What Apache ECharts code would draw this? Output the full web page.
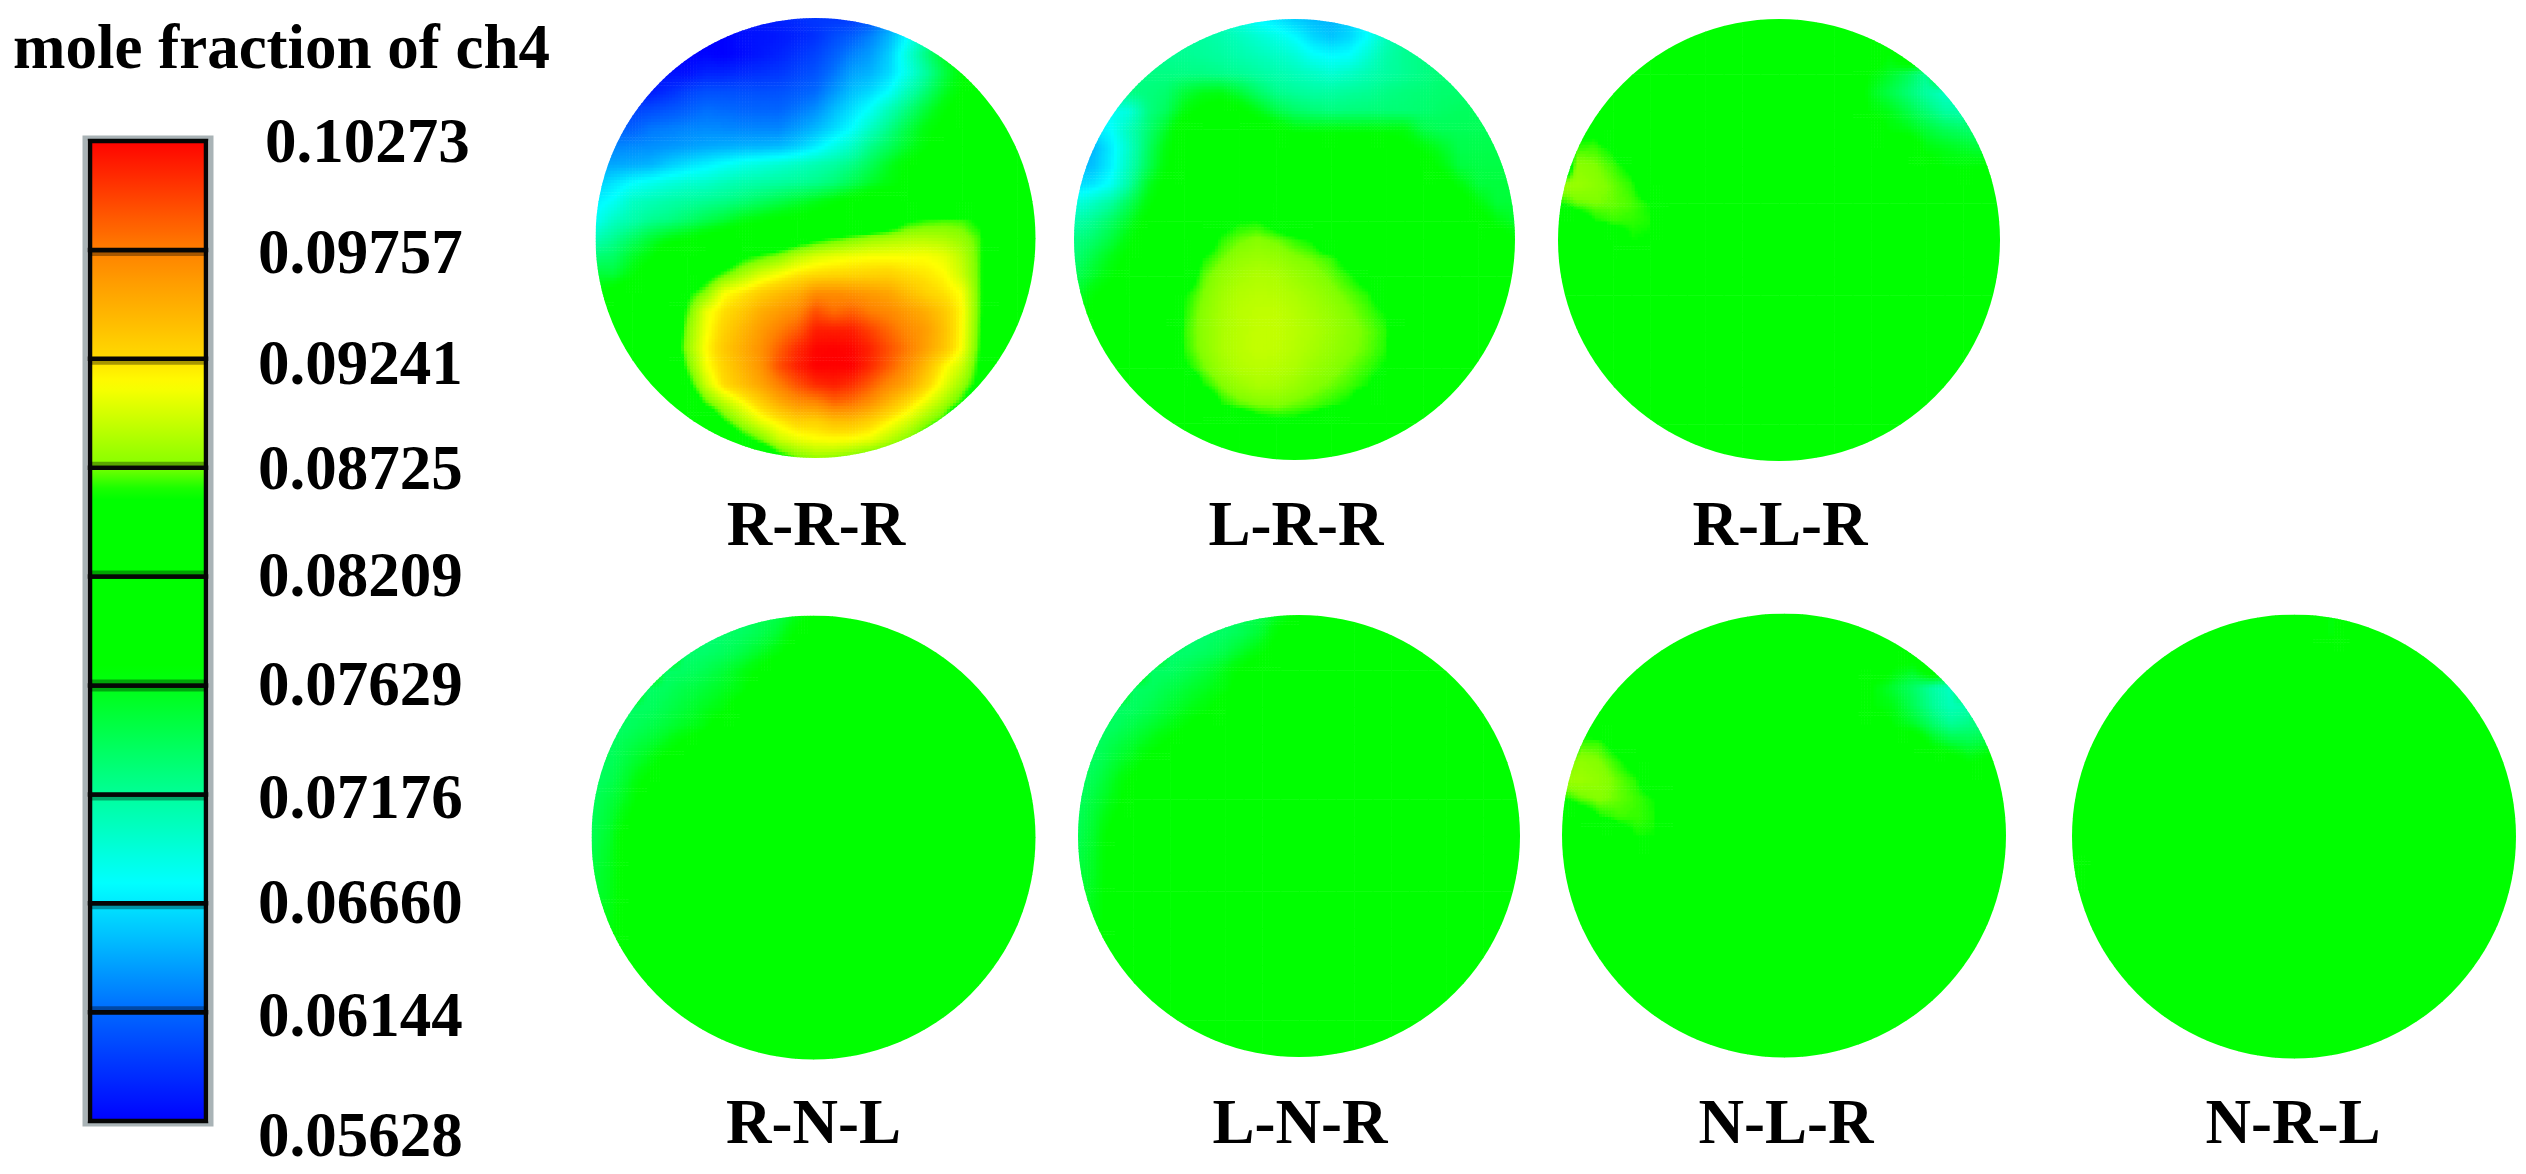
<!DOCTYPE html>
<html>
<head>
<meta charset="utf-8">
<style>html,body{margin:0;background:#fff}#main{width:2526px;height:1174px}</style>
<script src="https://cdn.jsdelivr.net/npm/echarts@6/dist/echarts.min.js"></script>
</head>
<body>
<div id="main"></div>
<script>
// tick labels of the colour bar, top to bottom
const tickLabels = ['0.10273', '0.09757', '0.09241', '0.08725', '0.08209', '0.07629', '0.07176', '0.06660', '0.06144', '0.05628'];
// same levels in 1e-3 units, bottom to top
const levels = [56.28, 61.44, 66.60, 71.76, 76.29, 82.09, 87.25, 92.41, 97.57, 102.73];
const caseNames = ['R-R-R', 'L-R-R', 'R-L-R', 'R-N-L', 'L-N-R', 'N-L-R', 'N-R-L'];

// colour bar colours, position counted in bands from the bottom
const barPos = [0, 1, 2, 2.2, 3, 4, 4.2, 5.75, 6, 6.76, 7, 8, 9];
const barColors = ['#0000ff', '#0068ff', '#00e8ff', '#00ffff', '#00ff99', '#00ff11', '#00ff00', '#00ff00', '#80ff00', '#ffff00', '#ffdc00', '#ff8000', '#ff0000'];
// where the tick labels sit, in bands from the bottom
const labelPos = [8.96, 7.94, 6.92, 5.95, 4.97, 3.97, 2.93, 1.97, 0.93, -0.17];
// soft dark edge next to some bar lines: [band line, side]
const lineHalos = [[8, -1], [7, -1], [6, 1], [5, 1], [4, 1], [4, -1], [3, -1], [2, -1], [1, 1]];

// mole fraction x 1000, 25 x 25 nodes, rows from the top.
// a short row means plain green (backgroundValue) for the rest of the row
const backgroundValue = 80;
const rrrRows = [
  [56,56,56,56,56,56,56,56.5,57,57.5,58,58.5,59,59,59,60.5,63,66,69,72,75,77,78,79,80],
  [56,56,56,56,56,56,56,56.3,57,57.2,57.5,58,58.7,60,61,62.5,64.5,67.5,71,74.5,77,79],
  [56.3,56.3,56.3,56.3,56.3,56.3,56.5,56.3,56.8,57.4,58,58.8,59.6,61,62.5,63.6,65.5,69,72.5,75.5,78],
  [57,57,57,57,57,57,58,58,58.4,58.7,59,59.7,60.4,62,63.8,64.5,66,68.5,71.5,74.5,77,79],
  [57.5,57.5,57.5,57.5,58.5,59.5,60.2,60.2,60.2,60.2,60.3,60.8,61.5,63.3,65,66,67.6,70.5,73,75.5,77.5,79],
  [59.5,59.5,59.5,60,60.5,61,61.7,61.5,61.3,61.3,61.3,62,63,64.8,66.3,68,70.5,72.8,75,77,79],
  [61,61,61,62,62.3,62.6,62.8,62.7,62.6,62.6,62.6,63.5,64.6,66,67.6,70,72.3,74.5,76.5,78],
  [62.5,62.6,62.8,63,63.3,63.6,64,64.2,64.4,64.5,64.7,65.5,66.8,68.5,70,72.3,73.8,75.5,77,79],
  [64,64,64.2,64.5,65.5,66.3,67,67.8,68.5,69,69.5,70.1,70.8,71.5,72.5,74,75.8,77.5,79],
  [65.5,66.5,67.6,68.3,69,69.5,69.8,70.5,71,71.3,71.6,71.9,72.3,73,74.2,75.5,76.6,78,79.5],
  [67,68,70,70.6,71.2,71.6,72,72.4,73,73.7,74.4,75.2,76,77,78,79,79.5],
  [68,70,71,72,72.5,73.3,74.2,75,76.2,76.8,77.5,78,78.5,79,79.5,81,83,85.5,86.2,86.5,86.5,85.5,81],
  [70.5,72,73.5,75,76.2,77,78,79,80,81,82.5,84,85.3,86.2,87,87.8,88.3,88.7,88.8,88.5,87.8,86.5,81],
  [73,73.5,75.5,76.8,80,81,82,83,85.5,86.5,87.5,89,90,90.5,90.8,91,91,91,91,90.5,89,86.5,81],
  [75,75,76.8,79.5,81,82,84.8,86.8,88.5,90,91,92,92.5,92.7,92.8,92.9,93,92.4,92,91.3,89.5,86.5,81],
  [77,78.5,80,80.8,81.5,85.5,87.5,91,92,93.2,94.2,95,96.8,96.8,96.5,96,95.5,94.2,93,92.2,91,86.5,81],
  [78,79,80,81,83,86.5,90.5,92.3,93.5,95,96,97,99.5,98.3,98.8,97.6,97,96,95,93.5,91.3,86.5,81],
  [79,79.5,80,80.5,81.5,87.5,90.8,93,94.5,96,97.5,99,101.5,101.5,101.5,100,98.5,97,96,94,91.2,86.3,81],
  [79,79.5,80,80.5,82.5,87.8,91.2,93.5,95,96.6,98.8,101,102.5,102.7,102.5,101.3,99.5,97.8,95.8,93.8,91,86,81],
  [79,79.5,80,80.5,81.5,86.8,90.8,93,94.7,96.4,99.5,101.5,102.7,102.7,102.7,101,99,96.8,94.3,91.5,89.5,85.5,81],
  [79,79.5,80,80.5,81,85,89.5,92.5,94,95.5,97.5,99.5,101,101.5,100.8,99,97,95.5,93,90.5,88,85,81],
  [79,79.5,80,80.2,80.5,82,86.5,89,91,93,95,96.5,97,98.5,98,96.5,94.5,92.5,90.5,88.5,86,81],
  [79,79.5,80,80,80,80.5,82,86,88.5,90.5,91.8,93,93,94,94,93,91.5,90,88,86,81],
  [79,79.5,80,80,80,80,80.5,81.5,85,87,89.5,90.5,91,91.2,91,90.5,89,87.5,85,81],
  [79,79.5,80,80,80,80,80,80,80,81,85,87,88,87.8,87,86,85,83,81]
];
const lrrRows = [
  [72,72,72,72,72,71.5,71,71,70.5,69,67.5,66.5,65.5,64.8,64.5,65.5,67.5,70,71.5,72.5,73,73,73,73,73],
  [72,72,72,72,72,72,71.8,71.5,71,70.3,69.5,68.7,67.6,66,65.2,66,67.8,70.5,72,72.5,72.8,73,73,73,73],
  [72,72,72,72,72,72,72,71.8,71.5,71,70.5,70,69.3,68,67.5,67.8,69.5,71.2,72,72.5,72.8,73,73,73,73],
  [72.5,72.5,72.5,72.5,72.5,72.5,72.5,72.5,72.3,72,71.5,71,70.5,70,69.5,70,70.8,71.5,72,72.5,73,73,73,73,73],
  [72.5,72.5,72.5,72.5,72.7,73.2,75,76,76.2,75,73.5,72.3,71.8,71.5,71.5,71.8,72,72.5,72.8,73,73.2,73.3,73.3,73.3,73.3],
  [68,68,68,69,72.5,73.8,76.5,78,79,78,76.2,74.5,73.5,73,72.7,72.8,72.9,73,73,73.2,73.5,73.7,73.8,73.8,73.8],
  [66.5,66.5,67.6,70.5,73,75.5,79,80,80,80,79,78,76.6,76.4,76.4,76.4,76.4,76.4,76.4,74.5,74,74,74,74,74],
  [64.5,64.6,66.8,70,73.5,76.5,79,80,80,80,80,80,80,80,80,80,80,80,78,76.8,75.5,74.3,74.3,74.3,74.3],
  [64.8,65,67,70.5,74,77,79.5,80,80,80,80,80,80,80,80,80,80,80,80,79,76.7,74.8,74.6,74.6,74.6],
  [66,66.5,68,71.5,75.5,78,80,80,80,80,80,80,80,80,80,80,80,80,80,80,79,76.5,74.9,74.8,74.8],
  [68.8,70,71.5,74,76.6,79,80,80,80,80,80,80,80,80,80,80,80,80,80,80,80,79,76.6,75,75],
  [71,72,73.5,75.5,78,80,81,82.5,85,85.9,86,85,83,81.5,80,80,80,80,80,80,80,80,79,76.5,75.5],
  [72.5,73.3,74.8,76.8,79,80,81,84,86.3,87,87.4,87,86.4,85.8,83,81,80,80,80,80,80,80,80,79,77.5],
  [73,74.6,76.2,78,79.5,80,82,86,87,87.8,88.1,87.9,87.4,87,86.5,85,82],
  [74,75.5,77,79,80,80,84,86.8,87.8,88.4,88.7,88.6,88.1,87.6,87,86.3,85,82],
  [75,77,78.5,80,80,80,85.9,87.2,88.2,88.8,89,88.9,88.6,88.1,87.5,86.9,86.3,84.5,81],
  [76,78,79,80,80,81,86.2,87.5,88.4,89,89.2,89.2,88.9,88.4,87.9,87.3,86.7,85.9,82],
  [77,79,80,80,80,82,86.4,87.6,88.5,89,89.3,89.3,89,88.6,88.1,87.5,87,86.3,83],
  [78,79,80,80,80,82,86.3,87.5,88.5,89,89.3,89.2,88.9,88.4,87.9,87.4,86.9,86.2,82],
  [79,80,80,80,80,81,85.7,87,88.1,88.8,89,88.9,88.6,88,87.5,87,86.5,85.8,82],
  [80,80,80,80,80,80,82,85.9,87.2,88,88.5,88.4,88,87.4,87,86.6,86,84.5,81],
  [80,80,80,80,80,80,80,82,86,86.8,87.2,87.3,87,86.7,86.3,85.8,83,81],
  [80,80,80,80,80,80,80,80,81,83,85,85.5,85.5,85,83,81]
];
// the near uniform plots: [row, first column, values...]
const rlrPatches = [
  [2, 18, 77],
  [3, 17, 77, 75.5, 74, 72],
  [4, 17, 76, 74.5, 73, 71.5, 70, 70],
  [5, 17, 77, 76, 74.5, 73, 71.5, 71],
  [6, 18, 77, 76.2, 75, 74, 73.5, 73],
  [7, 20, 76.5, 76, 75.5, 75],
  [8, 20, 79, 77, 77, 77],
  [6, 1, 85, 85.5, 82],
  [7, 1, 86.5, 86.6, 85.7, 82],
  [8, 1, 87.6, 87.3, 86.6, 85.5, 82],
  [9, 0, 88, 88, 87.6, 87, 86.4, 84],
  [10, 0, 86, 87, 87.2, 87, 86.7, 86, 82],
  [11, 0, 81, 84, 86, 86.5, 86.4, 86.2, 82],
  [12, 3, 84, 86, 85.8, 81]
];
const rnlPatches = [
  [0, 8, 73, 74, 74.3, 76, 78],
  [1, 6, 73, 73.3, 73.6, 74.2, 75.2, 77.5],
  [2, 5, 73.3, 73.3, 73.7, 74.4, 75.5, 76.7, 79],
  [3, 4, 73.5, 73.6, 74.1, 74.9, 76, 77.5],
  [4, 3, 73.5, 73.8, 74.5, 75, 75.7, 76.5, 79],
  [5, 2, 73.5, 73.7, 74.3, 75, 75.8, 76.5, 79],
  [6, 1, 73.4, 73.7, 74.3, 75, 75.8, 76.5, 79],
  [7, 1, 73.7, 74.4, 75.2, 76.3, 78],
  [8, 0, 73.5, 73.9, 75, 76.2, 78.5],
  [9, 0, 73.5, 74.2, 75.7, 78],
  [10, 0, 73.8, 74.8, 76.3, 79],
  [11, 0, 74, 75.2, 77.5],
  [12, 0, 74.2, 75.5, 79],
  [13, 0, 74.5, 75.8, 79],
  [14, 0, 74.8, 75.9, 79],
  [15, 0, 75, 76, 79],
  [16, 0, 75.2, 76.2, 79],
  [17, 0, 75.5, 76.4],
  [18, 0, 76.5, 78]
];
const lnrPatches = [
  [0, 8, 73, 74, 74.5, 76, 78],
  [1, 6, 73, 73.3, 73.6, 74.2, 75.4, 77.8],
  [2, 5, 73.3, 73.3, 73.7, 74.5, 75.7, 77, 79],
  [3, 4, 73.5, 73.6, 74.2, 75, 76.2, 77.8],
  [4, 3, 73.5, 73.8, 74.5, 75.2, 75.9, 76.8, 79],
  [5, 2, 73.5, 73.7, 74.3, 75.2, 76, 76.8, 79],
  [6, 1, 73.4, 73.7, 74.5, 75.3, 76.2, 77.5, 79],
  [7, 1, 73.7, 74.5, 75.4, 76.5, 78],
  [8, 0, 73.5, 73.9, 75.2, 76.4, 78.5],
  [9, 0, 73.5, 74.4, 76, 78],
  [10, 0, 73.8, 75, 76.5, 79],
  [11, 0, 74, 75.4, 77.5],
  [12, 0, 74.2, 75.7, 79],
  [13, 0, 74.5, 75.9, 79],
  [14, 0, 74.8, 76, 79],
  [15, 0, 75, 76.2, 79],
  [16, 0, 75.2, 76.4, 79],
  [17, 0, 75.5, 76.5],
  [18, 0, 76.5, 78]
];
const nlrPatches = [
  [3, 18, 77, 76],
  [4, 17, 76.5, 75, 73.5, 71.5, 70],
  [5, 17, 77, 76, 74, 72, 70.5, 71],
  [6, 18, 76.8, 75.5, 73.5, 72, 72.5, 73],
  [7, 20, 76.5, 75, 74.5, 75],
  [8, 21, 79, 77, 78],
  [6, 1, 85, 84, 81],
  [7, 1, 86.6, 86.5, 85, 81],
  [8, 0, 87, 87.7, 87.3, 86.4, 85, 81],
  [9, 0, 88, 88.1, 87.7, 87, 86.3, 84],
  [10, 0, 86, 87, 87.4, 87, 86.6, 86, 81],
  [11, 0, 81, 84, 86, 86.6, 86.5, 86.2, 82],
  [12, 3, 84.5, 86.1, 86, 81]
];
const nrlPatches = [
  [0, 14, 76.4],
  [1, 14, 76.6],
  [13, 0, 84],
  [14, 0, 86.4, 81]
];

const nodeCount = 25;
// disk centre x, centre y and radius in pixels, same order as caseNames
const diskBoxes = [[815.5, 238, 220], [1294.5, 239.5, 220.5], [1779, 240, 221], [813.5, 837.5, 222], [1299, 836, 221], [1784, 835.5, 222], [2294, 836.5, 222]];
const captionPos = [[816, 497], [1296, 497], [1780, 497], [813.5, 1095], [1300, 1095], [1786, 1095], [2293, 1095]];

const fontFamily = '"Liberation Serif", "Times New Roman", serif';

function buildField(rows, patches) {
    let field = [];
    for (let r = 0; r < nodeCount; r++) {
        let row = [];
        for (let c = 0; c < nodeCount; c++) {
            row.push(rows[r] && rows[r][c] !== undefined ? rows[r][c] : backgroundValue);
        }
        field.push(row);
    }
    patches.forEach(function (p) {
        for (let i = 2; i < p.length; i++) {
            field[p[0]][p[1] + i - 2] = p[i];
        }
    });
    return field;
}

const fields = [
    buildField(rrrRows, []),
    buildField(lrrRows, []),
    buildField([], rlrPatches),
    buildField([], rnlPatches),
    buildField([], lnrPatches),
    buildField([], nlrPatches),
    buildField([], nrlPatches)
];

function colorAtBand(t) {
    let i = 0;
    while (i < barPos.length - 2 && t > barPos[i + 1]) i++;
    let f = (t - barPos[i]) / (barPos[i + 1] - barPos[i]);
    f = Math.max(0, Math.min(1, f));
    return echarts.color.lerp(f, [barColors[i], barColors[i + 1]]);
}

let colorCache = {};
function colorOf(v) {
    let key = Math.round(v * 20);
    if (colorCache[key]) return colorCache[key];
    let i = 0;
    while (i < levels.length - 2 && v > levels[i + 1]) i++;
    let t = i + (v - levels[i]) / (levels[i + 1] - levels[i]);
    colorCache[key] = colorAtBand(t);
    return colorCache[key];
}

// one custom cell, shaded between its four corner values
function diskRenderer(field) {
    const last = nodeCount - 1;
    return function (params, api) {
        let c = api.value(0), r = api.value(1);
        let p0 = api.coord([c, r]), p1 = api.coord([c + 1, r + 1]);
        let mid = api.coord([last / 2, last / 2]);
        let rad = api.size([last, 0])[0] / 2;
        let nx = Math.max(p0[0], Math.min(mid[0], p1[0])) - mid[0];
        let ny = Math.max(p0[1], Math.min(mid[1], p1[1])) - mid[1];
        if (nx * nx + ny * ny > rad * rad) return null;

        let a = field[r][c], b = field[r][c + 1], d = field[r + 1][c], e = field[r + 1][c + 1];
        let lo = Math.min(a, b, d, e), hi = Math.max(a, b, d, e);
        let w = p1[0] - p0[0], h = p1[1] - p0[1];
        let children = [];
        if (colorOf(lo) === colorOf(hi)) {
            children.push({ type: 'rect', shape: { x: p0[0], y: p0[1], width: w + 0.6, height: h + 0.6 }, style: { fill: colorOf(lo) } });
        } else {
            let n = 6;
            for (let j = 0; j < n; j++) {
                for (let i = 0; i < n; i++) {
                    let u = (i + 0.5) / n, v = (j + 0.5) / n;
                    let val = (a * (1 - u) + b * u) * (1 - v) + (d * (1 - u) + e * u) * v;
                    children.push({
                        type: 'rect',
                        shape: { x: p0[0] + w * i / n, y: p0[1] + h * j / n, width: w / n + 0.6, height: h / n + 0.6 },
                        style: { fill: colorOf(val) }
                    });
                }
            }
        }
        return {
            type: 'group',
            children: children,
            clipPath: { type: 'circle', shape: { cx: mid[0], cy: mid[1], r: rad } }
        };
    };
}

let grids = [], xAxes = [], yAxes = [], series = [], titles = [];

// colour bar
const barTop = 141, bandHeight = 108.9;
grids.push({ left: 90, width: 116, top: barTop, height: bandHeight * 9.2 });
xAxes.push({ type: 'value', gridIndex: 0, min: 0, max: 1, show: false });
yAxes.push({
    type: 'value', gridIndex: 0, min: -0.2, max: 9, position: 'right',
    splitLine: { show: false }, axisLine: { show: false }, axisTick: { show: false },
    axisLabel: {
        customValues: labelPos,
        margin: 52,
        align: 'left',
        fontFamily: fontFamily,
        fontWeight: 'bold',
        fontSize: 63,
        color: '#000',
        rich: {
            // the top label stands a little further right than the others
            shifted: { padding: [0, 0, 0, 7], fontFamily: fontFamily, fontWeight: 'bold', fontSize: 63, color: '#000' }
        },
        formatter: function (v) {
            let best = 0;
            labelPos.forEach(function (p, i) {
                if (Math.abs(p - v) < Math.abs(labelPos[best] - v)) best = i;
            });
            return best === 0 ? '{shifted|' + tickLabels[best] + '}' : tickLabels[best];
        }
    }
});
series.push({
    type: 'custom',
    xAxisIndex: 0, yAxisIndex: 0,
    silent: true, animation: false,
    clip: false,
    data: [[0, 0, 1, 9]],
    renderItem: function (params, api) {
        let tl = api.coord([0, 9]), br = api.coord([1, 0]);
        return {
            type: 'rect',
            shape: { x: tl[0] - 5, y: tl[1] - 3, width: br[0] - tl[0] + 10, height: br[1] - tl[1] + 6 },
            style: { fill: 'none', stroke: '#a9b3b6', lineWidth: 5 }
        };
    }
});
series.push({
    type: 'custom',
    xAxisIndex: 0, yAxisIndex: 0,
    silent: true, animation: false,
    clip: false,
    data: levels.slice(0, 9).map(function (v, i) { return [0, i]; }),
    renderItem: function (params, api) {
        let i = api.value(1);
        let tl = api.coord([0, i + 1]), br = api.coord([1, i]);
        let stops = [];
        for (let k = 0; k <= 10; k++) {
            stops.push({ offset: k / 10, color: colorAtBand(i + 1 - k / 10) });
        }
        return {
            type: 'rect',
            shape: { x: tl[0], y: tl[1], width: br[0] - tl[0], height: br[1] - tl[1] },
            style: {
                fill: { type: 'linear', x: 0, y: 0, x2: 0, y2: 1, colorStops: stops },
                stroke: '#060606',
                lineWidth: 4.5
            }
        };
    }
});
series.push({
    type: 'custom',
    xAxisIndex: 0, yAxisIndex: 0,
    silent: true, animation: false,
    clip: false,
    data: lineHalos,
    renderItem: function (params, api) {
        let side = api.value(1);
        let left = api.coord([0, api.value(0)]), right = api.coord([1, api.value(0)]);
        return {
            type: 'rect',
            shape: { x: left[0], y: side > 0 ? left[1] - 6 : left[1] + 2, width: right[0] - left[0], height: 4 },
            style: { fill: 'rgba(0,0,0,0.35)' }
        };
    }
});

// the seven section plots
caseNames.forEach(function (name, k) {
    let box = diskBoxes[k];
    let field = fields[k];
    grids.push({ left: box[0] - box[2], top: box[1] - box[2], width: box[2] * 2, height: box[2] * 2 });
    xAxes.push({ type: 'value', gridIndex: k + 1, min: 0, max: nodeCount - 1, show: false });
    yAxes.push({ type: 'value', gridIndex: k + 1, min: 0, max: nodeCount - 1, inverse: true, show: false });
    let cells = [];
    for (let r = 0; r < nodeCount - 1; r++) {
        for (let c = 0; c < nodeCount - 1; c++) {
            cells.push([c, r, field[r][c]]);
        }
    }
    series.push({
        type: 'custom',
        name: name,
        xAxisIndex: k + 1, yAxisIndex: k + 1,
        silent: true, animation: false, progressive: 0,
        clip: false,
        data: cells,
        renderItem: diskRenderer(field)
    });
    titles.push({
        text: name, left: captionPos[k][0], top: captionPos[k][1], textAlign: 'center', padding: 0,
        textStyle: { fontFamily: fontFamily, fontWeight: 'bold', fontSize: 63, color: '#000' }
    });
});
titles.push({
    text: 'mole fraction of ch4', left: 13, top: 20, padding: 0,
    textStyle: { fontFamily: fontFamily, fontWeight: 'bold', fontSize: 63, color: '#000' }
});

let myChart = echarts.init(document.getElementById('main'));
myChart.setOption({
    backgroundColor: '#fff',
    animation: false,
    title: titles,
    grid: grids,
    xAxis: xAxes,
    yAxis: yAxes,
    series: series
});
</script>
</body>
</html>
